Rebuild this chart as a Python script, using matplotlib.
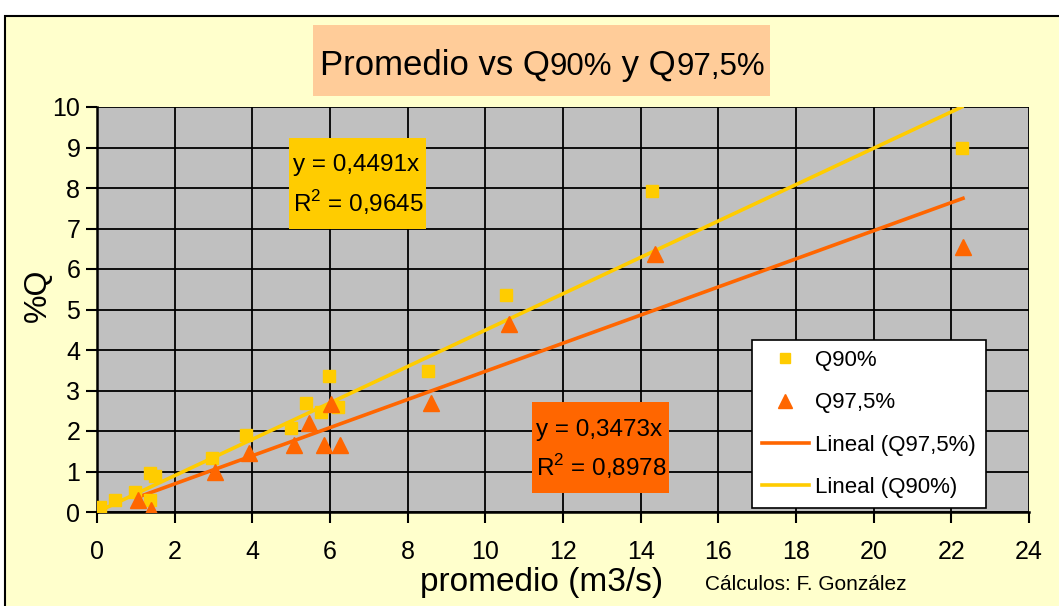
import matplotlib
matplotlib.use('Agg')
import matplotlib.pyplot as plt
from matplotlib.patches import Rectangle
from matplotlib.text import Annotation
import numpy as np

plt.rcParams['font.family'] = ['Liberation Sans', 'DejaVu Sans']
plt.rcParams['mathtext.fontset'] = 'custom'
plt.rcParams['mathtext.rm'] = 'Liberation Sans'

# datos
prom_q90 = [0.08, 0.46, 0.98, 1.37, 1.5, 1.37, 2.96, 3.84, 5.0, 5.39, 5.77, 5.98, 6.2, 8.53, 10.54, 14.3, 22.27]
q90 = [0.12, 0.3, 0.5, 0.96, 0.9, 0.3, 1.33, 1.9, 2.07, 2.68, 2.46, 3.37, 2.59, 3.47, 5.37, 7.93, 9.0]
prom_q975 = [1.06, 1.39, 3.04, 3.92, 5.08, 5.46, 5.85, 6.03, 6.26, 8.6, 10.62, 14.36, 22.3]
q975 = [0.3, 0.05, 1.0, 1.45, 1.65, 2.2, 1.65, 2.66, 1.65, 2.7, 4.65, 6.38, 6.55]
pend_q90 = 0.4491
pend_q975 = 0.3473
r2_q90 = '0,9645'
r2_q975 = '0,8978'
xticks = list(range(0, 25, 2))
yticks = list(range(0, 11))

amarillo = '#FFCC00'
naranja = '#FF6600'

fig = plt.figure(figsize=(10.59, 6.06), dpi=100)
fig.patch.set_facecolor('white')
# fondo del area del grafico
fig.patches.append(Rectangle((5 / 1059, -0.1), 1.2, (606 - 16) / 606 + 0.1,
                             transform=fig.transFigure, facecolor='#FFFFCC',
                             edgecolor='black', linewidth=1.5, zorder=-5))

ax = fig.add_axes([97 / 1059, 1 - 512 / 606, 932 / 1059, 405 / 606])
ax.set_facecolor('#C0C0C0')
ax.set_xlim(0, 24)
ax.set_ylim(0, 10)
ax.set_xticks(xticks)
ax.set_yticks(yticks)
ax.grid(True, color='black', linewidth=1.3)
ax.set_axisbelow(True)
for s in ['top', 'right']:
    ax.spines[s].set_visible(False)
for s in ['left', 'bottom']:
    ax.spines[s].set_linewidth(1.8)
ax.tick_params(direction='out', length=8, width=1.5, labelsize=18, pad=4)
ax.tick_params(axis='x', pad=12)

# lineas de tendencia (Excel, intercepto cero)
xl = np.array([min(prom_q975), max(prom_q975)])
ax.plot(xl, pend_q975 * xl, color=naranja, lw=2.6, label='Lineal (Q97,5%)', zorder=3)
xl2 = np.array([min(prom_q90), max(prom_q90)])
ax.plot(xl2, pend_q90 * xl2, color=amarillo, lw=2.6, label='Lineal (Q90%)', zorder=3)

ax.plot(prom_q90, q90, 's', color=amarillo, ms=8.5, label='Q90%', zorder=4)
ax.plot(prom_q975, q975, '^', color=naranja, ms=11, label='Q97,5%', zorder=4)

h, l = ax.get_legend_handles_labels()
orden = [2, 3, 0, 1]
leg = ax.legend([h[i] for i in orden], [l[i] for i in orden], loc='lower left',
                bbox_to_anchor=((752 - 97) / 932, 4 / 405), fontsize=16,
                fancybox=False, framealpha=1, edgecolor='black', borderpad=0.45,
                labelspacing=0.96, handlelength=2.1, handletextpad=0.3, borderaxespad=0,
                markerscale=0.9)
leg.get_frame().set_linewidth(1.2)
leg.set_zorder(10)

ax.set_xlabel('promedio (m3/s)', fontsize=24)
ax.xaxis.set_label_coords((542 - 97) / 932, (512 - 582) / 405)
ax.xaxis.label.set_va('center')
ax.set_ylabel('%Q', fontsize=23)
ax.yaxis.set_label_coords((38 - 97) / 932, (512 - 295) / 405)
ax.yaxis.label.set_va('center')

# cajas de ecuaciones
ax.add_patch(Rectangle(((289 - 97) / 932, (512 - 229) / 405), 137 / 932, 91 / 405,
                       transform=ax.transAxes, facecolor=amarillo, edgecolor='none', zorder=6))
ax.text((293 - 97) / 932, (512 - 165) / 405, 'y = 0,4491x', transform=ax.transAxes,
        fontsize=17.5, va='center', ha='left', zorder=7)
ax.text((293 - 97) / 932, (512 - 203) / 405, 'R$^2$ = ' + r2_q90, transform=ax.transAxes,
        fontsize=17.5, va='center', ha='left', zorder=7)
ax.add_patch(Rectangle(((532 - 97) / 932, (512 - 493) / 405), 137 / 932, 91 / 405,
                       transform=ax.transAxes, facecolor=naranja, edgecolor='none', zorder=6))
ax.text((536 - 97) / 932, (512 - 430) / 405, 'y = 0,3473x', transform=ax.transAxes,
        fontsize=17.5, va='center', ha='left', zorder=7)
ax.text((536 - 97) / 932, (512 - 467) / 405, 'R$^2$ = ' + r2_q975, transform=ax.transAxes,
        fontsize=17.5, va='center', ha='left', zorder=7)

fig.text(705 / 1059, 1 - 584 / 606, 'Cálculos: F. González', fontsize=15, va='center')

# titulo con recuadro
fig.patches.append(Rectangle((313 / 1059, 1 - 96 / 606), 457 / 1059, 71 / 606,
                             transform=fig.transFigure, facecolor='#FFCC99',
                             edgecolor='none', zorder=-4))
yb = 1 - 75 / 606
partes = [('Promedio vs Q', 25), ('90%', 22.5), (' y Q', 25), ('97,5%', 22.5)]
anterior = fig.text(320 / 1059, yb, partes[0][0], fontsize=partes[0][1], va='baseline')
for txt, fs in partes[1:]:
    anterior = fig.add_artist(Annotation(txt, xy=(1, yb), xycoords=(anterior, 'figure fraction'),
                                         fontsize=fs, va='baseline', ha='left'))

fig.savefig('out.png', dpi=100, facecolor=fig.get_facecolor())
